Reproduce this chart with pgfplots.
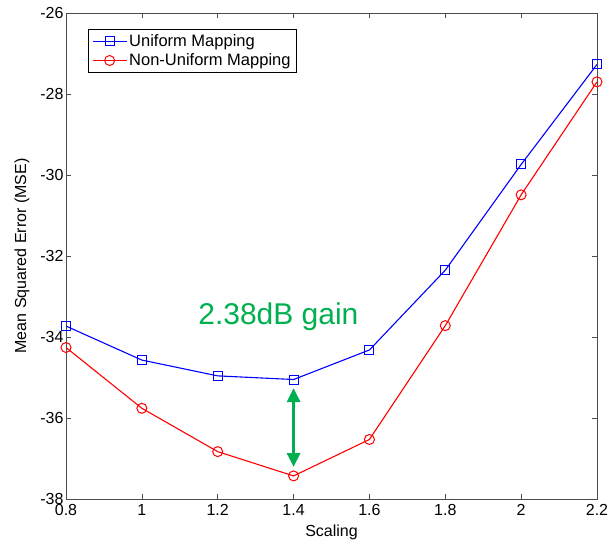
\documentclass[border=0pt]{standalone}
\usepackage{pgfplots}
\pgfplotsset{compat=1.18}
\usepackage{fontspec}
\setmainfont{Liberation Sans}
\usetikzlibrary{arrows.meta}
\definecolor{ugreen}{RGB}{0,176,80}
\definecolor{ublue}{RGB}{0,0,255}
\definecolor{ured}{RGB}{255,0,0}
\begin{document}
\begin{tikzpicture}[x=1pt,y=1pt]
\begin{axis}[
  at={(0,0)}, anchor=south west,
  scale only axis,
  width=531pt, height=486pt,
  xmin=0.8, xmax=2.2, ymin=-38, ymax=-26,
  xtick={0.8,1,...,2.2}, ytick={-38,-36,...,-26},
  xticklabels={0.8,1,1.2,1.4,1.6,1.8,2,2.2},
  yticklabels={-38,-36,-34,-32,-30,-28,-26},
  tick align=inside, tick pos=both,
  major tick length=5pt,
  axis line style={draw=black!70, line width=0.8pt},
  every tick/.style={black!70, line width=0.6pt},
  tick label style={font=\fontsize{16}{18}\selectfont},
  xticklabel style={yshift=-1.5pt},
  yticklabel style={xshift=1pt},
  xlabel={Scaling}, ylabel={Mean Squared Error (MSE)},
  label style={font=\fontsize{16}{18}\selectfont},
  xlabel style={yshift=-3pt},
  ylabel style={yshift=4pt},
  /pgf/number format/assume math mode=true,
  legend style={at={(0.041,0.967)}, anchor=north west, draw=black, line width=0.6pt,
    font=\fontsize{16.5}{19}\selectfont, inner xsep=4pt, inner ysep=3pt, row sep=2pt,
    cells={anchor=west}},
  legend image code/.code={%
    \draw[mark repeat=2,mark phase=2] plot coordinates {(0pt,0pt) (17pt,0pt) (34pt,0pt)};},
]
\addplot[color=ublue, line width=1.1pt, mark=square, mark size=4.5pt, mark options={line width=1pt}]
coordinates {(0.8,-33.73) (1.0,-34.57) (1.2,-34.96) (1.4,-35.05) (1.6,-34.32) (1.8,-32.35) (2.0,-29.74) (2.2,-27.27)};
\addlegendentry{Uniform Mapping}
\addplot[color=ured, line width=1.1pt, mark=o, mark size=5pt, mark options={line width=1pt}]
coordinates {(0.8,-34.26) (1.0,-35.76) (1.2,-36.83) (1.4,-37.43) (1.6,-36.53) (1.8,-33.72) (2.0,-30.49) (2.2,-27.70)};
\addlegendentry{Non-Uniform Mapping}
\draw[ugreen, line width=3pt, {Triangle[length=14pt,width=13pt]}-{Triangle[length=14pt,width=13pt]}] (axis cs:1.4,-35.26) -- (axis cs:1.4,-37.21);
\node[ugreen, font=\fontsize{30}{34}\selectfont, anchor=base] at (axis cs:1.360,-33.70) {2.38dB gain};
\end{axis}
\pgfresetboundingbox
\useasboundingbox (-66,-49) rectangle (549,499);
\end{tikzpicture}
\end{document}
